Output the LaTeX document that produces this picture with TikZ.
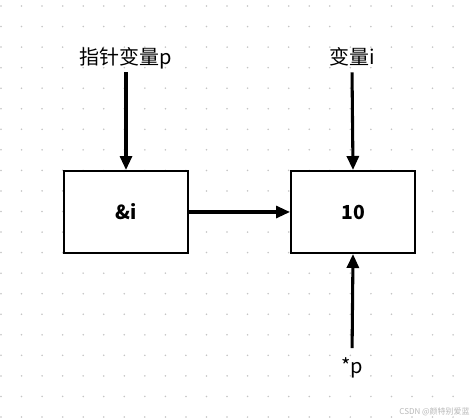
\documentclass[tikz,border=0pt]{standalone}
\usepackage{fontspec}
\setmainfont{Noto Sans CJK SC}
\usetikzlibrary{arrows.meta}
\definecolor{gridgray}{HTML}{C4C4C4}
\definecolor{markgray}{HTML}{B8B8B8}

\begin{document}
\begin{tikzpicture}[x=0.75pt, y=-0.75pt,
        box/.style={draw, fill=white, line width=1.5pt, minimum width=93pt,
          minimum height=61.5pt, font=\fontsize{14.5}{17}\selectfont\bfseries},
        lbl/.style={inner sep=0pt, text height=11pt, text depth=4pt,
          font=\fontsize{15}{18}\selectfont},
        arr/.style={-{Triangle[length=10.5pt, width=9pt]}, line width=2.3pt}]
      \useasboundingbox[fill=white] (0,0) rectangle (474,419);

      % dotted background grid
      \foreach \gx in {0,...,22}
        \foreach \gy in {0,...,20}
          \fill[gridgray] (1+20.55*\gx, 6+20.55*\gy) circle (0.65pt);

      \node[box] (ptr) at (126,212) {\&i};
      \node[box] (var) at (353,212) {10};

      \node[lbl, anchor=base] (ptrname) at (126,64) {指针变量p};
      \node[lbl, anchor=base] (varname) at (352,64) {变量i};
      \node[lbl, anchor=base] (deref) at (352,373) {*p};

      \draw[arr, shorten <=2pt] (ptrname.south) -- (ptr.north);
      \draw[arr, shorten <=2pt] (varname.south) -- (var.north);
      \draw[arr] (ptr.east) -- (var.west);
      \draw[arr, shorten <=7.5pt] (deref.north) -- (var.south);

      \node[font=\fontsize{6}{7}\selectfont, text=markgray, anchor=east, inner sep=0pt]
        (mark) at (470,412) {CSDN @颜特别爱蓝};
    \end{tikzpicture}
\end{document}
